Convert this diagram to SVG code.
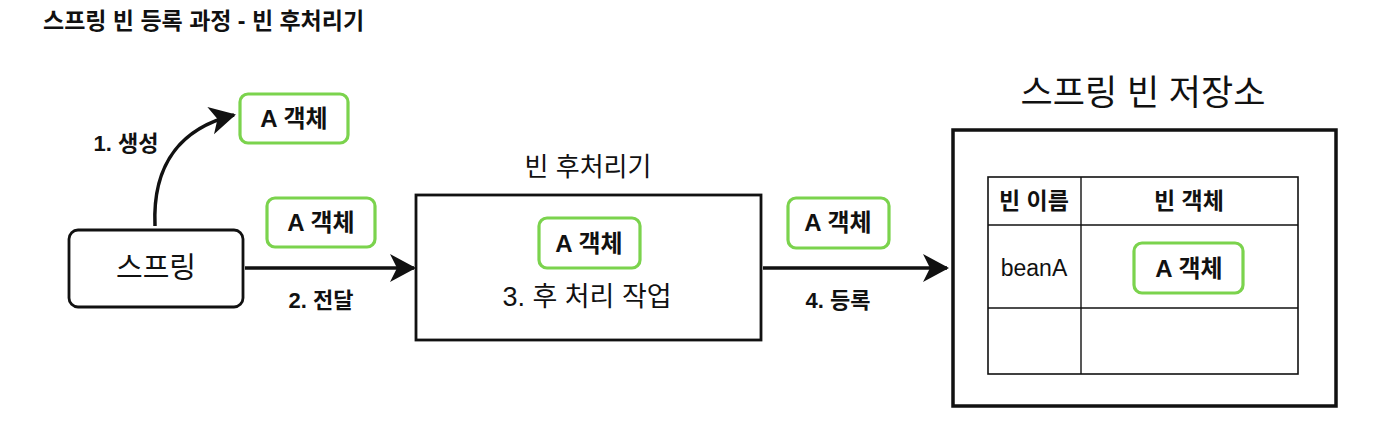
<svg xmlns="http://www.w3.org/2000/svg" width="1398" height="442" viewBox="0 0 1398 442">
<style>
text{font-family:"Liberation Sans","Noto Sans CJK KR",sans-serif;fill:#111;text-anchor:middle;dominant-baseline:central}
.g{fill:none;stroke:#7bd34d;stroke-width:3.2}
.obj{font-size:24px;font-weight:600}
.box{fill:#fff;stroke:#111}
.conn{fill:none;stroke:#111;stroke-width:3.5}
.lbl{font-size:22px;font-weight:600}
</style>
<defs>
<marker id="ah" markerUnits="userSpaceOnUse" viewBox="0 0 26 30" markerWidth="26" markerHeight="30" refX="24" refY="15" orient="auto">
<path d="M0,1 L26,15 L0,29 L7,15 Z" fill="#111"/>
</marker>
</defs>
<rect width="1398" height="442" fill="#fff"/>
<text x="43" y="21" style="text-anchor:start;font-size:23px;font-weight:700">스프링 빈 등록 과정 - 빈 후처리기</text>

<g id="spring">
<rect class="box" x="69" y="230" width="174" height="77" rx="9" stroke-width="2.8"/>
<text x="156" y="268" style="font-size:29px">스프링</text>
</g>

<g id="obj-created">
<rect class="g" x="240" y="94" width="108" height="49" rx="8"/>
<text class="obj" x="294" y="118">A 객체</text>
</g>

<g id="obj-passed">
<rect class="g" x="267" y="198" width="108" height="49" rx="8"/>
<text class="obj" x="321" y="222">A 객체</text>
</g>

<g id="postprocessor">
<text x="588" y="167" style="font-size:26px">빈 후처리기</text>
<rect class="box" x="416" y="195" width="345" height="145" stroke-width="2.8"/>
<rect class="g" x="539" y="218" width="101" height="50" rx="8"/>
<text class="obj" x="589" y="243">A 객체</text>
<text x="587" y="297" style="font-size:27px">3. 후 처리 작업</text>
</g>

<g id="obj-registered">
<rect class="g" x="788" y="198" width="101" height="50" rx="8"/>
<text class="obj" x="838" y="222">A 객체</text>
</g>

<g id="storage">
<text x="1143" y="92" style="font-size:35px">스프링 빈 저장소</text>
<rect class="box" x="953" y="130" width="383" height="276" stroke-width="3.5"/>
<rect x="988" y="177" width="310" height="197" fill="none" stroke="#111" stroke-width="1.6"/>
<line x1="1081" y1="177" x2="1081" y2="374" stroke="#111" stroke-width="1.4"/>
<line x1="988" y1="225" x2="1298" y2="225" stroke="#111" stroke-width="1.6"/>
<line x1="988" y1="308" x2="1298" y2="308" stroke="#111" stroke-width="1.4"/>
<text x="1034" y="201" style="font-size:23px;font-weight:700">빈 이름</text>
<text x="1189" y="201" style="font-size:23px;font-weight:700">빈 객체</text>
<text x="1034" y="268" style="font-size:23px">beanA</text>
<rect class="g" x="1134" y="243" width="109" height="50" rx="8"/>
<text class="obj" x="1189" y="268">A 객체</text>
</g>

<g id="connectors">
<path class="conn" d="M155,226 C152,160 185,127 234,115" marker-end="url(#ah)"/>
<text class="lbl" x="126" y="143">1. 생성</text>
<line class="conn" x1="245" y1="268" x2="414" y2="268" marker-end="url(#ah)"/>
<text class="lbl" x="321" y="300">2. 전달</text>
<line class="conn" x1="763" y1="268" x2="947" y2="268" marker-end="url(#ah)"/>
<text class="lbl" x="838" y="300">4. 등록</text>
</g>
</svg>
